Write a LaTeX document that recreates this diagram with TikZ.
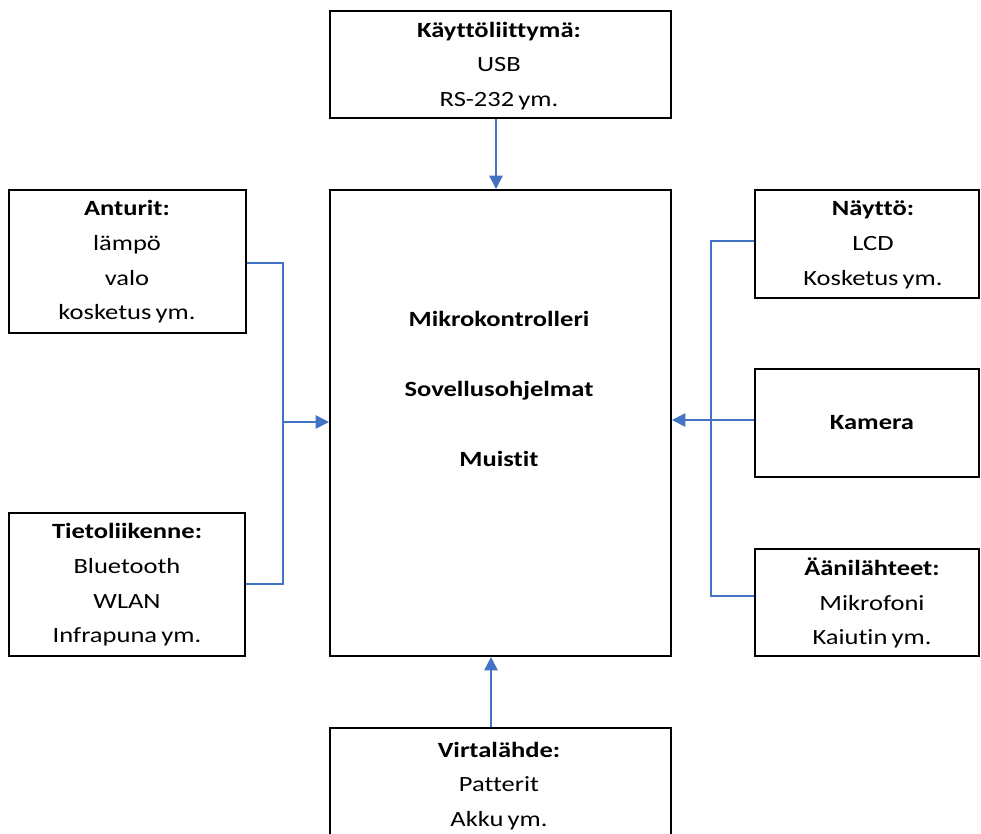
\documentclass[tikz,border=0pt]{standalone}
\usepackage{fontspec}
\setmainfont[FakeStretch=1.22,Ligatures=NoCommon,WordSpace=0.7]{Carlito}
\usetikzlibrary{arrows.meta}
\definecolor{conncol}{HTML}{4472C4}
\begin{document}
\begin{tikzpicture}[x=0.75pt,y=-0.75pt,
  box/.style 2 args={draw=black,line width=1.5pt,inner sep=0pt,minimum width=#1*0.75pt,minimum height=#2*0.75pt},
  txt/.style={align=center,inner sep=0pt,font=\fontsize{16.3}{26}\selectfont},
  maintxt/.style={align=center,inner sep=0pt,font=\fontsize{16.3}{52.5}\selectfont\bfseries},
  conn/.style={draw=conncol,line width=1.1pt},
  arr/.style={conn,-{Triangle[length=10pt,width=10pt]}}]
\useasboundingbox (0,0) rectangle (981,833);
\clip (0,0) rectangle (981,833);
% boxes
\node[box={341}{107}] (top) at (500.5,64.5) {};
\node[box={341}{466}] (main) at (500.5,423) {};
\node[box={341}{117}] (bot) at (500.5,786.5) {};
\node[box={237}{143}] (ant) at (127.5,261.5) {};
\node[box={236}{143}] (tie) at (127,584.5) {};
\node[box={224}{108}] (nay) at (867,244) {};
\node[box={224}{108}] (kam) at (867,423) {};
\node[box={224}{107}] (aan) at (867,602.5) {};
% texts
\node[txt] (toptxt) at (499,66) {\textbf{Käyttöliittymä:}\\USB\\RS-232 ym.};
\node[maintxt] (maintext) at (499,388.5) {Mikrokontrolleri\\Sovellusohjelmat\\Muistit};
\node[txt] (bottxt) at (499,786) {\textbf{Virtalähde:}\\Patterit\\Akku ym.};
\node[txt] (anttxt) at (127,262) {\textbf{Anturit:}\\lämpö\\valo\\kosketus ym.};
\node[txt] (tietxt) at (127,585) {\textbf{Tietoliikenne:}\\Bluetooth\\WLAN\\Infrapuna ym.};
\node[txt] (naytxt) at (873,245) {\textbf{Näyttö:}\\LCD\\Kosketus ym.};
\node[txt,font=\fontsize{16.3}{26}\selectfont\bfseries] (kamtxt) at (872,423) {Kamera};
\node[txt] (aantxt) at (872,603) {\textbf{Äänilähteet:}\\Mikrofoni\\Kaiutin ym.};
% connectors
\coordinate (lj) at (283,422);
\coordinate (rj) at (711,420);
\draw[conn] (ant.east |- 0,263) -- (283,263) -- (283,584) -- (tie.east |- 0,584);
\draw[arr] (lj) -- (main.west |- lj);
\draw[conn] (nay.west |- 0,241) -- (711,241) -- (711,596) -- (aan.west |- 0,596);
\draw[arr] (kam.west |- rj) -- (main.east |- rj);
\draw[arr] (496,0 |- top.south) -- (496,0 |- main.north);
\draw[arr] (491,0 |- bot.north) -- (491,0 |- main.south);
\end{tikzpicture}
\end{document}
